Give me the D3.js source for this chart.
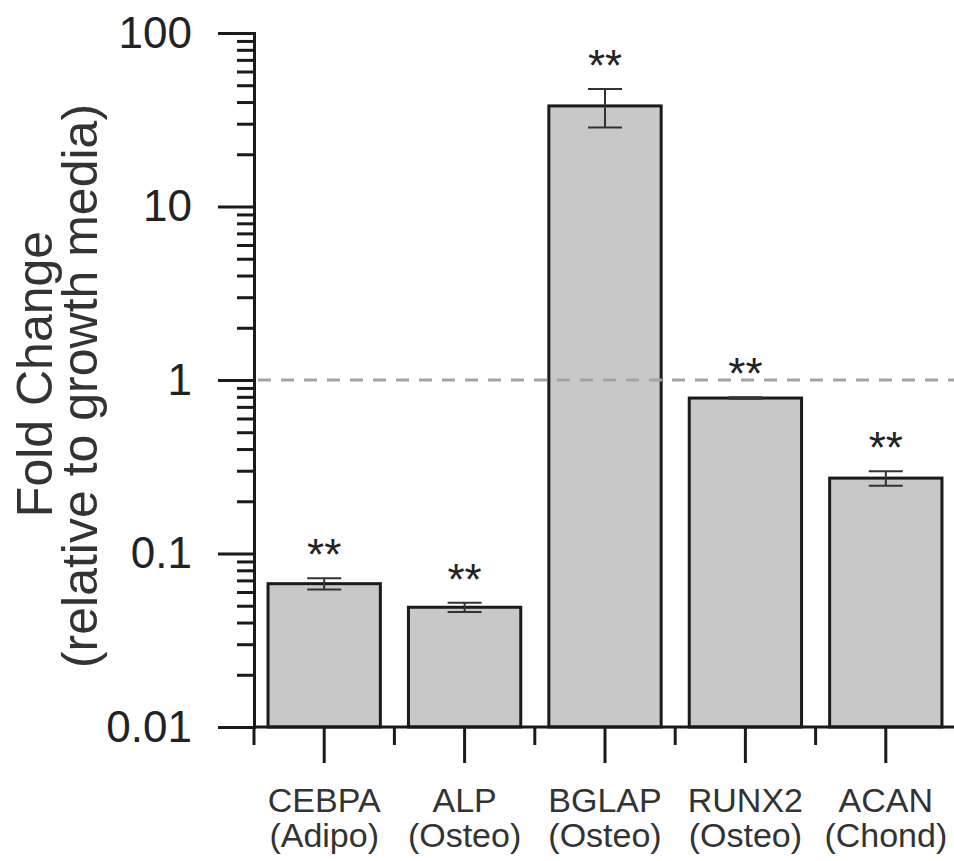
<!DOCTYPE html>
<html>
<head>
<meta charset="utf-8">
<script src="https://cdn.jsdelivr.net/npm/d3@7"></script>
<style>
    body { margin: 0; background: #fff; }
    text { font-family: "Liberation Sans", Arial, sans-serif; }
</style>
</head>
<body>
<div class="main"></div>
<script>
let genes = ["CEBPA", "ALP", "BGLAP", "RUNX2", "ACAN"];
let lineages = ["(Adipo)", "(Osteo)", "(Osteo)", "(Osteo)", "(Chond)"];
let foldChange = [0.067, 0.049, 38, 0.787, 0.272];
let errors = [0.005, 0.003, 9.5, 0.008, 0.026];
let significance = ["**", "**", "**", "**", "**"];
let majorTicks = [0.01, 0.1, 1, 10, 100];
let referenceLevel = 1;

let width = 954;
let height = 861;

let svg = d3.select('.main')
    .append("svg")
    .attr("width", width)
    .attr("height", height);

let x = d3.scaleBand()
    .domain(genes)
    .range([254, 956])
    .paddingInner(0.2)
    .paddingOuter(0.1);

let y = d3.scaleLog()
    .domain([0.01, 100])
    .range([727, 33]);

let data = genes.map((g, i) => ({
    gene: g,
    lineage: lineages[i],
    value: foldChange[i],
    err: errors[i],
    sig: significance[i]
}));

// minor ticks 2..9 in every decade
let minorTicks = [];
majorTicks.slice(0, -1).forEach(m => {
    for (let k = 2; k <= 9; k++) minorTicks.push(m * k);
});

// bars
svg.selectAll(".bar")
    .data(data)
    .enter().append("rect")
    .attr("class", "bar")
    .attr("x", d => x(d.gene))
    .attr("width", x.bandwidth())
    .attr("y", d => y(d.value))
    .attr("height", d => y(0.01) - y(d.value))
    .attr("fill", "#c8c8c8")
    .attr("stroke", "#1a1a1a")
    .attr("stroke-width", 3);

// reference line at 1
svg.append("line")
    .attr("x1", 258)
    .attr("x2", width)
    .attr("y1", y(referenceLevel))
    .attr("y2", y(referenceLevel))
    .attr("stroke", "#a3a3a3")
    .attr("stroke-width", 3)
    .attr("stroke-dasharray", "13,10");

// error bars
let capHalf = 17;
let errG = svg.selectAll(".err")
    .data(data)
    .enter().append("g")
    .attr("class", "err")
    .attr("stroke", "#333")
    .attr("stroke-width", 2);

errG.append("line")
    .attr("x1", d => x(d.gene) + x.bandwidth() / 2)
    .attr("x2", d => x(d.gene) + x.bandwidth() / 2)
    .attr("y1", d => y(d.value + d.err))
    .attr("y2", d => y(d.value - d.err));

errG.append("line")
    .attr("x1", d => x(d.gene) + x.bandwidth() / 2 - capHalf)
    .attr("x2", d => x(d.gene) + x.bandwidth() / 2 + capHalf)
    .attr("y1", d => y(d.value + d.err))
    .attr("y2", d => y(d.value + d.err));

errG.append("line")
    .attr("x1", d => x(d.gene) + x.bandwidth() / 2 - capHalf)
    .attr("x2", d => x(d.gene) + x.bandwidth() / 2 + capHalf)
    .attr("y1", d => y(d.value - d.err))
    .attr("y2", d => y(d.value - d.err));

// significance stars
svg.selectAll(".sig")
    .data(data)
    .enter().append("text")
    .attr("class", "sig")
    .attr("x", d => x(d.gene) + x.bandwidth() / 2)
    .attr("y", d => y(d.value + d.err) - 33 + 25)
    .attr("text-anchor", "middle")
    .attr("font-size", 44)
    .attr("fill", "#222")
    .text(d => d.sig);

// y axis, major and minor
let yAxis = svg.append("g")
    .attr("transform", "translate(254,0)")
    .call(d3.axisLeft(y)
        .tickValues(majorTicks)
        .tickFormat(d3.format("~g"))
        .tickSize(36)
        .tickPadding(26));

let yMinor = svg.append("g")
    .attr("transform", "translate(254,0)")
    .call(d3.axisLeft(y)
        .tickValues(minorTicks)
        .tickFormat("")
        .tickSize(17));
yMinor.select(".domain").remove();
yMinor.selectAll(".tick text").remove();

svg.selectAll(".tick line")
    .attr("stroke", "#1a1a1a")
    .attr("stroke-width", 3);

yAxis.select(".domain")
    .attr("stroke", "#1a1a1a")
    .attr("stroke-width", 3);

yAxis.selectAll(".tick text")
    .attr("font-size", 44)
    .attr("font-family", "Liberation Sans, Arial, sans-serif")
    .attr("fill", "#222");

// x axis
let xAxis = svg.append("g")
    .attr("transform", `translate(0,${y(0.01)})`)
    .call(d3.axisBottom(x).tickSize(36).tickFormat(""));
xAxis.selectAll(".tick text").remove();

xAxis.select(".domain")
    .attr("d", `M254,0H${width}`)
    .attr("stroke", "#1a1a1a")
    .attr("stroke-width", 3);

xAxis.selectAll(".tick line")
    .attr("stroke", "#1a1a1a")
    .attr("stroke-width", 3);

// short ticks on the band boundaries
let pad = x.step() * x.paddingOuter();
xAxis.selectAll(".boundary")
    .data(genes)
    .enter().append("line")
    .attr("class", "boundary")
    .attr("x1", d => x(d) - pad)
    .attr("x2", d => x(d) - pad)
    .attr("y1", 0)
    .attr("y2", 18)
    .attr("stroke", "#1a1a1a")
    .attr("stroke-width", 3);

// category labels, two lines
let labels = svg.selectAll(".xlabel")
    .data(data)
    .enter().append("text")
    .attr("class", "xlabel")
    .attr("text-anchor", "middle")
    .attr("font-size", 34)
    .attr("fill", "#333");

labels.append("tspan")
    .attr("x", d => x(d.gene) + x.bandwidth() / 2)
    .attr("y", 812)
    .text(d => d.gene);

labels.append("tspan")
    .attr("x", d => x(d.gene) + x.bandwidth() / 2)
    .attr("y", 847)
    .text(d => d.lineage);

// y title
let yMid = (y(0.01) + y(100)) / 2;
svg.append("text")
    .attr("transform", `translate(52,${yMid - 6}) rotate(-90)`)
    .attr("text-anchor", "middle")
    .attr("font-size", 50)
    .attr("fill", "#333")
    .text("Fold Change");

svg.append("text")
    .attr("transform", `translate(97,${yMid + 6}) rotate(-90)`)
    .attr("text-anchor", "middle")
    .attr("font-size", 50)
    .attr("fill", "#333")
    .text("(relative to growth media)");
</script>
</body>
</html>
